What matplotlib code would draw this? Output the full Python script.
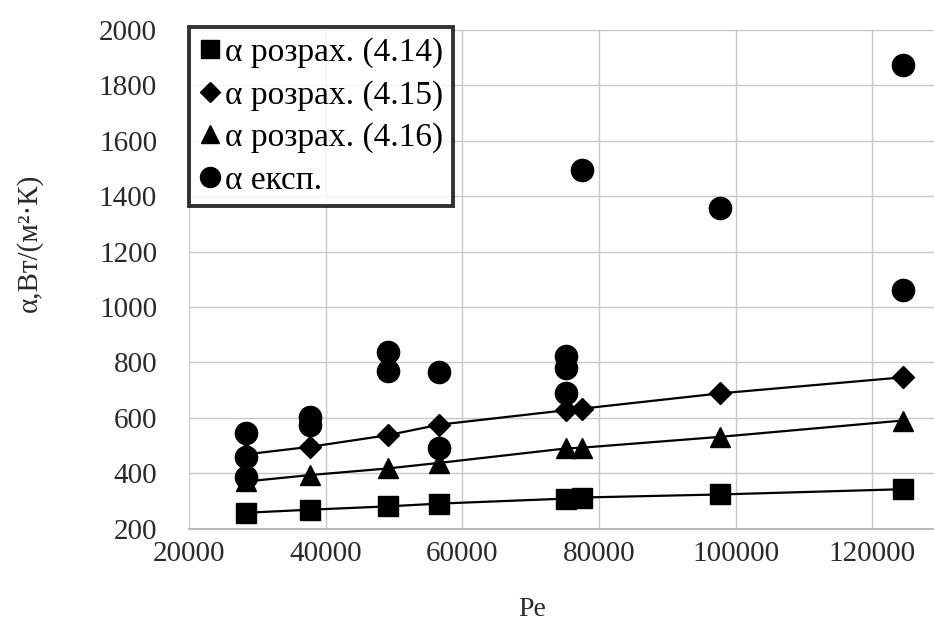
import numpy as np
import matplotlib
matplotlib.use("Agg")
import matplotlib.pyplot as plt

# ------------------------------------------------------------
# DANE
# ------------------------------------------------------------

pe_calc = [28400, 37700, 49100, 56600, 75100, 77550, 97700, 124500]

alpha_414 = [257, 268, 280, 290, 308, 312, 323, 342]
alpha_415 = [468, 495, 537, 575, 627, 633, 688, 746]
alpha_416 = [370, 393, 417, 437, 489, 492, 531, 590]

pe_exp = [28400, 28400, 28400,
          37700, 37700,
          49100, 49100,
          56600, 56600,
          75100, 75100, 75100,
          77550,
          97700,
          124500, 124500]
alpha_exp = [545, 460, 385,
             603, 575,
             838, 768,
             766, 492,
             822, 778, 688,
             1495,
             1358,
             1875, 1060]

legend_labels = ["α розрах. (4.14)", "α розрах. (4.15)",
                 "α розрах. (4.16)", "α експ."]

# ------------------------------------------------------------
# WYKRES
# ------------------------------------------------------------

plt.rcParams["font.family"] = ["Liberation Serif", "DejaVu Serif"]

fig = plt.figure(figsize=(9.34, 6.24), dpi=100)
ax = fig.add_axes([0.2024, 0.153, 0.7976, 0.799])

# linie obliczeniowe
for vals in (alpha_414, alpha_415, alpha_416):
    ax.plot(pe_calc, vals, color="black", linewidth=1.6, zorder=3)

ax.plot(pe_calc, alpha_414, linestyle="none", marker="s", markersize=14,
        color="black", label=legend_labels[0], zorder=4)
ax.plot(pe_calc, alpha_415, linestyle="none", marker="D", markersize=11,
        color="black", label=legend_labels[1], zorder=4)
ax.plot(pe_calc, alpha_416, linestyle="none", marker="^", markersize=15,
        color="black", label=legend_labels[2], zorder=4)
ax.plot(pe_exp, alpha_exp, linestyle="none", marker="o", markersize=16,
        color="black", label=legend_labels[3], zorder=5)

ax.set_xlim(20000, 129000)
ax.set_ylim(200, 2000)
ax.set_xticks([20000, 40000, 60000, 80000, 100000, 120000])
ax.set_yticks(np.arange(200, 2001, 200))

ax.grid(True, color="#c8c8c8", linewidth=1.0)
ax.set_axisbelow(True)
for side in ("top", "right", "left"):
    ax.spines[side].set_visible(False)
ax.spines["bottom"].set_color("#b0b0b0")
ax.spines["bottom"].set_linewidth(1.2)

ax.tick_params(axis="both", length=0, labelsize=21, colors="#2a2a2a")
ax.tick_params(axis="y", pad=23)
ax.tick_params(axis="x", pad=9)

ax.set_xlabel("Pe", fontsize=20, color="#2a2a2a")
ax.xaxis.set_label_coords(0.46, -0.138)
ax.set_ylabel("α,Вт/(м²·К)", fontsize=21, color="#2a2a2a")
ax.yaxis.set_label_coords(-0.196, 0.573)

leg = ax.legend(loc="upper left", bbox_to_anchor=(0.0, 1.006),
                fontsize=24, frameon=True, fancybox=False,
                handlelength=0.65, handletextpad=0.12,
                borderpad=0.3, labelspacing=0.36, borderaxespad=0.0,
                markerscale=0.9)
leg.get_frame().set_edgecolor("black")
leg.get_frame().set_linewidth(2.8)
leg.set_zorder(10)

fig.savefig("out.png", dpi=100)
